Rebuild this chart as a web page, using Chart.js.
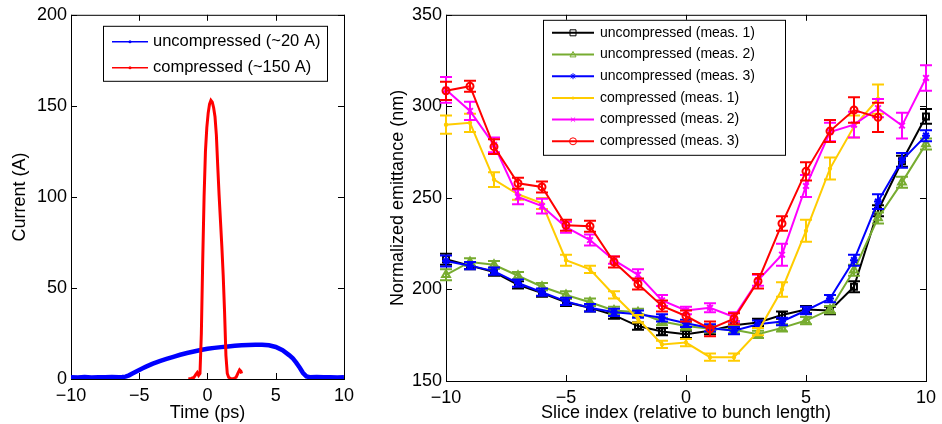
<!DOCTYPE html>
<html>
<head>
<meta charset="utf-8">
<script src="https://cdn.jsdelivr.net/npm/chart.js"></script>
<style>
  html, body { margin: 0; padding: 0; background: #fff; overflow: hidden; }
  #wrap { position: relative; width: 942px; height: 424px; }
  canvas { position: absolute; top: 0; }
  #currentChart { left: 0; }
  #emitChart { left: 380px; }
</style>
</head>
<body>
<div id="wrap">
  <canvas id="currentChart" width="360" height="424"></canvas>
  <canvas id="emitChart" width="562" height="424"></canvas>
</div>
<script>
// left panel: current profiles
const timeUncomp = [-10, -9.5, -9, -8.5, -8, -7.5, -7, -6.5, -6.25, -6, -5.75, -5.5, -5.25, -5, -4.75, -4.5, -4.25, -4,
  -3.5, -3, -2.5, -2, -1.5, -1, -0.5, 0, 0.5, 1, 1.5, 2, 2.5, 3, 3.5, 4, 4.5, 5, 5.5, 6, 6.25, 6.5, 6.75, 7, 7.25, 7.5,
  8, 8.5, 9, 9.5, 10];
const currentUncomp = [1.0, 0.8, 1.1, 0.8, 1.0, 0.9, 1.1, 1.0, 1.1, 1.3, 2.0, 3.0, 4.0, 5.0, 5.9, 6.8, 7.6, 8.4,
  9.8, 11.0, 12.2, 13.3, 14.3, 15.1, 15.9, 16.6, 17.1, 17.5, 17.9, 18.2, 18.5, 18.7, 18.8, 18.8, 18.5, 17.6, 15.8, 13.0, 11.3, 9.0, 6.3, 3.3, 1.4, 1.0,
  1.1, 0.9, 1.0, 0.8, 1.0];
const timeComp = [-1.4, -1.2, -1.0, -0.85, -0.75, -0.65, -0.55, -0.45, -0.35, -0.25, -0.15, -0.05, 0.05, 0.15, 0.25, 0.35,
  0.45, 0.55, 0.65, 0.75, 0.85, 0.95, 1.05, 1.15, 1.25, 1.35, 1.45, 1.55, 1.7, 1.9, 2.1, 2.25, 2.35, 2.45, 2.5];
const currentComp = [0.0, 0.3, 0.8, 2.5, 3.5, 2.0, 3, 25, 65, 100, 125, 138, 146, 151, 153, 152,
  149, 144, 134, 117, 101, 87, 73, 57, 37, 13, 3, 1.0, 0.2, 0.1, 1.0, 3.5, 5.0, 4.2, 3.0];
const currentLabels = ['uncompressed (~20 A)', 'compressed (~150 A)'];

// right panel: slice emittance with error bars
const slices = [-10, -9, -8, -7, -6, -5, -4, -3, -2, -1, 0, 1, 2, 3, 4, 5, 6, 7, 8, 9, 10];
const emitUnc1 = [216.5, 213, 209.5, 202.5, 198, 193, 190, 186, 180, 177, 175.5, 177.5, 180.5, 182, 186, 189, 188.5, 201.5, 243, 270, 294.5];
const errUnc1 = [3, 2, 2, 2, 2, 2, 2, 2, 2, 2, 2, 2, 2, 2, 2, 2, 2, 3, 3, 3, 4];
const emitUnc2 = [208, 215, 213.5, 207.5, 201.5, 197, 193, 188.5, 187.5, 182.5, 180, 178.5, 178, 175.5, 179, 183, 189, 210.5, 239, 258.5, 279.5];
const errUnc2 = [3, 2, 2, 2, 2, 2, 2, 2, 2, 2, 2, 2, 2, 2, 2, 2, 2, 3, 3, 3, 3];
const emitUnc3 = [215.5, 213, 210, 203.5, 198.5, 193.5, 190, 187.5, 186.5, 184.5, 181.5, 179, 177.5, 181, 182.5, 188.5, 195, 216, 248, 270.5, 284];
const errUnc3 = [3, 2, 2, 2, 2, 2, 2, 2, 2, 2, 2, 2, 2, 2, 2, 2, 2, 3, 4, 4, 3];
const emitComp1 = [290, 291, 260, 252, 247, 216, 211, 197, 184, 170, 171, 163, 163, 177, 200, 232, 266, 289, 304, null, null];
const errComp1 = [5, 5, 4, 3, 3, 3, 2, 2, 2, 2, 2, 2, 2, 2, 4, 6, 6, 6, 8, null, null];
const emitComp2 = [309, 297.5, 279, 250.5, 245.5, 234, 227, 216, 208, 194, 188.5, 190, 185, 205, 219, 256.5, 286, 290, 299, 289.5, 315.5];
const errComp2 = [7, 5, 4, 4, 4, 3, 3, 2, 3, 3, 2, 2.5, 2.5, 3, 6, 6, 5, 7, 5, 7, 7];
const emitComp3 = [308.5, 311, 278, 258, 256, 235, 234.5, 215, 203, 191, 185.5, 178.5, 184, 204.5, 236, 264.5, 286.5, 298, 294, null, null];
const errComp3 = [5, 3, 4, 3, 3, 3, 3, 3, 3, 3, 3, 4, 3, 4, 4, 5, 6, 7, 8, null, null];
const emitLabels = ['uncompressed (meas. 1)', 'uncompressed (meas. 2)', 'uncompressed (meas. 3)',
  'compressed (meas. 1)', 'compressed (meas. 2)', 'compressed (meas. 3)'];

const FONT = "Arial, 'Liberation Sans', Helvetica, sans-serif";
const TICK = 6;
const CAP = 6;
Chart.defaults.color = '#000';
Chart.defaults.font.family = FONT;

const minus = v => String(v).replace('-', '\u2212');
const pts = (xs, ys) => xs.map((x, i) => ({ x: x, y: ys[i] }));

// matlab style box with inward ticks on all sides
const boxTicks = {
  id: 'boxTicks',
  beforeDatasetsDraw(chart) {
    const { ctx, chartArea: a, scales: { x, y } } = chart;
    ctx.save();
    ctx.strokeStyle = '#000';
    ctx.lineWidth = 1;
    ctx.strokeRect(a.left + 0.5, a.top + 0.5, a.right - a.left, a.bottom - a.top);
    ctx.beginPath();
    x.ticks.forEach(t => {
      const p = Math.round(x.getPixelForValue(t.value)) + 0.5;
      ctx.moveTo(p, a.bottom); ctx.lineTo(p, a.bottom - TICK);
      ctx.moveTo(p, a.top); ctx.lineTo(p, a.top + TICK);
    });
    y.ticks.forEach(t => {
      const p = Math.round(y.getPixelForValue(t.value)) + 0.5;
      ctx.moveTo(a.left, p); ctx.lineTo(a.left + TICK, p);
      ctx.moveTo(a.right, p); ctx.lineTo(a.right - TICK, p);
    });
    ctx.stroke();
    ctx.restore();
  }
};

// vertical error bars with caps
const errorBars = {
  id: 'errorBars',
  afterDatasetDraw(chart, args) {
    const ds = chart.data.datasets[args.index];
    if (!ds.errors) return;
    const { ctx, scales: { x, y } } = chart;
    ctx.save();
    ctx.strokeStyle = ds.borderColor;
    ctx.lineWidth = 2;
    ctx.beginPath();
    ds.data.forEach((d, i) => {
      const e = ds.errors[i];
      if (d.y == null || e == null) return;
      const px = x.getPixelForValue(d.x);
      const top = y.getPixelForValue(d.y + e);
      const bot = y.getPixelForValue(d.y - e);
      ctx.moveTo(px, top); ctx.lineTo(px, bot);
      ctx.moveTo(px - CAP, top); ctx.lineTo(px + CAP, top);
      ctx.moveTo(px - CAP, bot); ctx.lineTo(px + CAP, bot);
    });
    ctx.stroke();
    ctx.restore();
  }
};

function drawMarker(ctx, style, x, y, r) {
  ctx.beginPath();
  if (style === 'rect') {
    ctx.rect(x - r, y - r, 2 * r, 2 * r);
  } else if (style === 'triangle') {
    ctx.moveTo(x, y - r); ctx.lineTo(x + r, y + r * 0.8); ctx.lineTo(x - r, y + r * 0.8); ctx.closePath();
  } else if (style === 'circle') {
    ctx.arc(x, y, r, 0, Math.PI * 2);
  } else if (style === 'crossRot' || style === 'star') {
    const d = r * 0.7;
    ctx.moveTo(x - d, y - d); ctx.lineTo(x + d, y + d);
    ctx.moveTo(x - d, y + d); ctx.lineTo(x + d, y - d);
    if (style === 'star') { ctx.moveTo(x, y - r); ctx.lineTo(x, y + r); }
  } else {
    ctx.arc(x, y, 1.5, 0, Math.PI * 2);
    ctx.fill();
    return;
  }
  ctx.stroke();
}

// legend drawn inside the axes like matlab
const boxLegend = {
  id: 'boxLegend',
  afterDraw(chart, args, o) {
    const { ctx, chartArea: a } = chart;
    const left = a.left + o.left, top = a.top + o.top;
    ctx.save();
    ctx.fillStyle = '#fff';
    ctx.fillRect(left, top, o.width, o.height);
    ctx.strokeStyle = '#000';
    ctx.lineWidth = 1;
    ctx.strokeRect(left + 0.5, top + 0.5, o.width, o.height);
    ctx.font = o.font + 'px ' + FONT;
    ctx.textBaseline = 'middle';
    chart.data.datasets.forEach((ds, i) => {
      const yy = top + o.rowTop + i * o.rowGap;
      ctx.strokeStyle = ds.borderColor;
      ctx.fillStyle = ds.borderColor;
      ctx.lineWidth = o.lineWidth;
      ctx.beginPath();
      ctx.moveTo(left + o.lineX0, yy); ctx.lineTo(left + o.lineX1, yy);
      ctx.stroke();
      ctx.lineWidth = 1;
      drawMarker(ctx, ds.legendMarker, left + (o.lineX0 + o.lineX1) / 2, yy, ds.legendRadius);
      ctx.fillStyle = '#000';
      ctx.fillText(ds.label, left + o.textX, yy);
    });
    ctx.restore();
  }
};

function axis(min, max, step, title, fitSize, horizontal, titlePad) {
  return {
    type: 'linear', min: min, max: max,
    ticks: { stepSize: step, padding: horizontal ? 6 : 4, font: { size: 18 }, color: '#000', maxRotation: 0, callback: minus },
    grid: { display: false, drawTicks: false },
    border: { display: false },
    title: { display: true, text: title, font: { size: 18 }, color: '#000', padding: { top: titlePad, bottom: 0 } },
    afterFit(s) { if (horizontal) s.height = fitSize; else s.width = fitSize; }
  };
}

new Chart(document.getElementById('currentChart'), {
  type: 'line',
  data: {
    datasets: [
      { label: currentLabels[0], data: pts(timeUncomp, currentUncomp), borderColor: '#0000ff', borderWidth: 4.5,
        pointRadius: 0, legendMarker: 'dot', legendRadius: 1.5, order: 2 },
      { label: currentLabels[1], data: pts(timeComp, currentComp), borderColor: '#ff0000', borderWidth: 3,
        pointRadius: 0, legendMarker: 'dot', legendRadius: 1.5, order: 1 }
    ]
  },
  options: {
    responsive: false, animation: false,
    layout: { padding: { left: 0, right: 12, top: 14, bottom: 0 } },
    scales: {
      x: axis(-10, 10, 5, 'Time (ps)', 45, true, -3),
      y: axis(0, 200, 50, 'Current (A)', 71, false, 9)
    },
    plugins: {
      legend: { display: false }, tooltip: { enabled: false },
      boxLegend: { left: 32, top: 11, width: 224, height: 55, rowTop: 16, rowGap: 26,
        lineX0: 9, lineX1: 45, textX: 50, font: 16.5, lineWidth: 1.5 }
    }
  },
  plugins: [boxTicks, boxLegend]
});

const emitSeries = [
  [emitUnc1, errUnc1, '#000000', 'rect', 4.2, 3],
  [emitUnc2, errUnc2, '#77ac30', 'triangle', 4.5, 3],
  [emitUnc3, errUnc3, '#0000ff', 'star', 4, 3],
  [emitComp1, errComp1, '#ffcc00', 'circle', 1.2, 0],
  [emitComp2, errComp2, '#ff00ff', 'crossRot', 4, 3],
  [emitComp3, errComp3, '#ff0000', 'circle', 3.5, 3.5]
];
const emitMarkers = ['rect', 'triangle', 'star', 'dot', 'crossRot', 'circle'];

new Chart(document.getElementById('emitChart'), {
  type: 'line',
  data: {
    datasets: emitSeries.map((s, i) => ({
      label: emitLabels[i],
      data: pts(slices, s[0]),
      errors: s[1],
      borderColor: s[2],
      backgroundColor: i === 3 ? s[2] : 'rgba(0,0,0,0)',
      borderWidth: 2,
      pointStyle: s[3], pointRadius: s[4], pointBorderWidth: 2,
      legendMarker: emitMarkers[i], legendRadius: s[5],
      clip: false,
      order: 6 - i
    }))
  },
  options: {
    responsive: false, animation: false,
    layout: { padding: { left: 0, right: 10, top: 13, bottom: 0 } },
    scales: {
      x: axis(-10, 10, 5, 'Slice index (relative to bunch length)', 43, true, -3),
      y: axis(150, 350, 50, 'Normalized emittance (nm)', 66, false, 7)
    },
    plugins: {
      legend: { display: false }, tooltip: { enabled: false },
      boxLegend: { left: 97, top: 5, width: 242, height: 135, rowTop: 13, rowGap: 21.7,
        lineX0: 9, lineX1: 51, textX: 57, font: 14, lineWidth: 2 }
    }
  },
  plugins: [boxTicks, errorBars, boxLegend]
});
</script>
</body>
</html>
